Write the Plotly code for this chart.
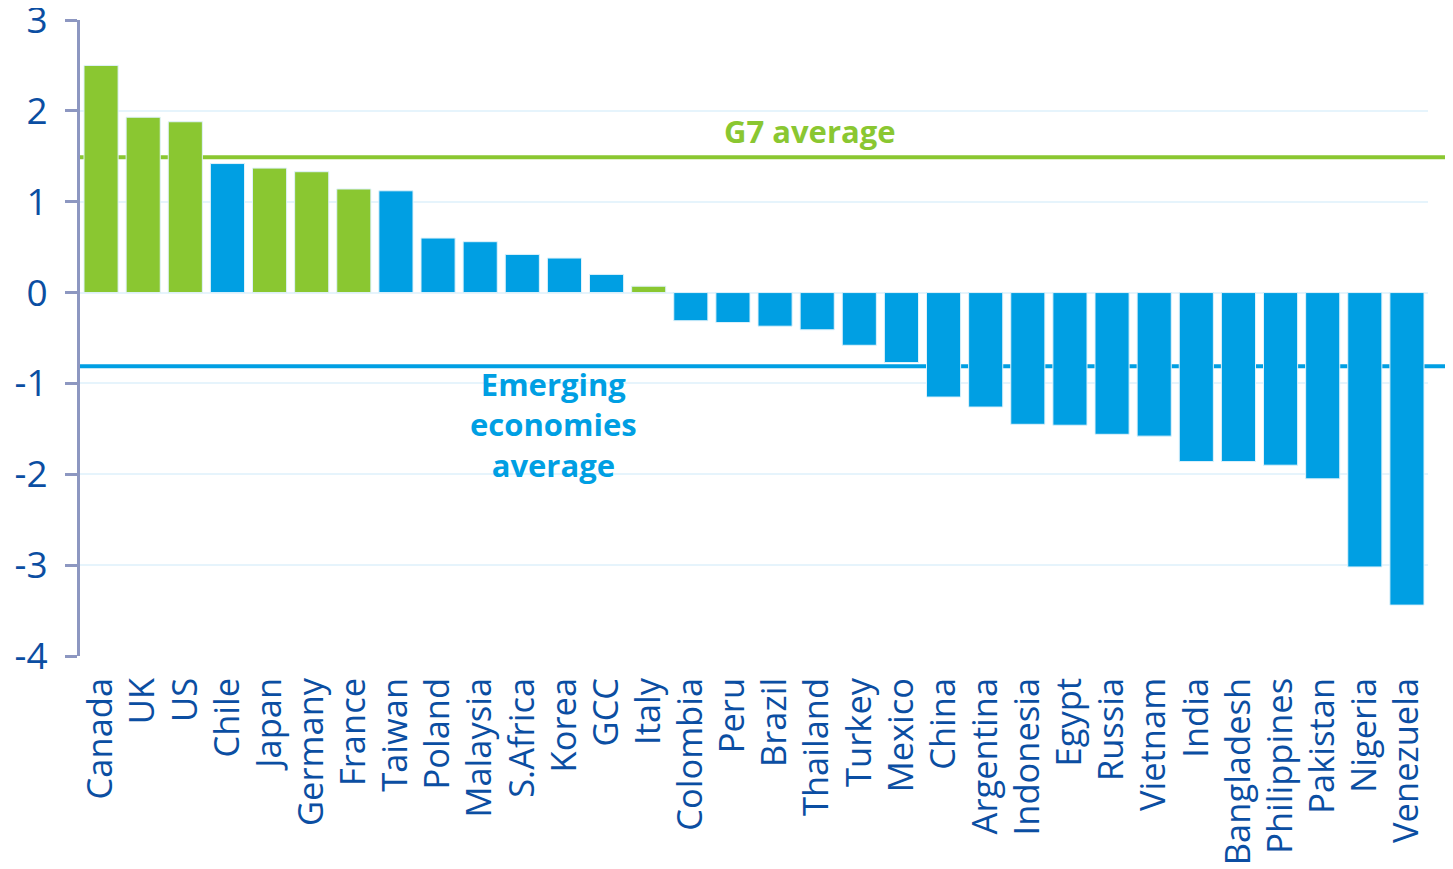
import plotly.graph_objects as go

countries = ["Canada", "UK", "US", "Chile", "Japan", "Germany", "France", "Taiwan",
             "Poland", "Malaysia", "S.Africa", "Korea", "GCC", "Italy", "Colombia",
             "Peru", "Brazil", "Thailand", "Turkey", "Mexico", "China", "Argentina",
             "Indonesia", "Egypt", "Russia", "Vietnam", "India", "Bangladesh",
             "Philippines", "Pakistan", "Nigeria", "Venezuela"]
values = [2.50, 1.93, 1.88, 1.42, 1.37, 1.33, 1.14, 1.12,
          0.60, 0.56, 0.42, 0.38, 0.20, 0.07, -0.31,
          -0.33, -0.37, -0.41, -0.58, -0.77, -1.15, -1.26,
          -1.45, -1.46, -1.56, -1.58, -1.86, -1.86,
          -1.90, -2.05, -3.02, -3.44]
g7 = ["Canada", "UK", "US", "Japan", "Germany", "France", "Italy"]
g7_average = 1.49
emerging_average = -0.81
y_ticks = [3, 2, 1, 0, -1, -2, -3, -4]
y_ticktext = ["3", "2", "1", "0", "-1", "-2", "-3", "-4"]

GREEN = "#8ac731"
BLUE = "#009fe3"
NAVY = "#0b4ea2"
AXIS = "#8d97c1"
GRID = "#e6f4fc"
FONT = "Open Sans"

Y_MIN, Y_MAX = -4, 3


def ypaper(v):
    return (v - Y_MIN) / (Y_MAX - Y_MIN)


colors = [GREEN if c in g7 else BLUE for c in countries]

# page body has an 8px margin, so the figure is a bit smaller than the window
fig = go.Figure(
    layout=go.Layout(
        width=1445, height=861,
        margin=dict(l=72, r=25, t=12, b=213),
        plot_bgcolor="white", paper_bgcolor="white",
        showlegend=False,
        bargap=0.19,
        font=dict(family=FONT, color=NAVY),
        xaxis=dict(
            type="category", range=[-0.5, len(countries) - 0.5],
            tickangle=-90, tickfont=dict(size=34.5, color=NAVY, family=FONT, weight=500),
            showline=False, ticks="", showgrid=False, zeroline=False,
            ticklabelstandoff=14, automargin=False,
        ),
        xaxis2=dict(
            overlaying="x", anchor="free", position=ypaper(0),
            range=[-0.5, len(countries) - 0.5],
            tickvals=[k + 0.5 for k in range(len(countries))],
            ticks="outside", ticklen=9, tickwidth=3, tickcolor=AXIS,
            showticklabels=False, showgrid=False, zeroline=False,
            showline=True, linecolor=AXIS, linewidth=3, automargin=False,
        ),
        yaxis=dict(
            range=[Y_MIN, Y_MAX], tickvals=y_ticks, ticktext=y_ticktext,
            tickfont=dict(size=37, color=NAVY, family=FONT, weight=500),
            ticks="outside", ticklen=12, tickwidth=3, tickcolor=AXIS,
            showline=True, linecolor=AXIS, linewidth=3,
            showgrid=True, gridcolor=GRID, gridwidth=2,
            zeroline=False, ticklabelstandoff=10, automargin=False,
            ticklabeloverflow="allow",
        ),
    )
)

fig.add_trace(go.Bar(
    x=countries, y=values,
    marker=dict(color=colors, line=dict(color="#dff2fb", width=1)),
    hoverinfo="x+y",
))

# average lines run past the end of the axis, to the page edge
for level, color in [(g7_average, GREEN), (emerging_average, BLUE)]:
    fig.add_shape(
        type="line", xref="paper", yref="paper",
        x0=0, x1=1.03, y0=ypaper(level), y1=ypaper(level),
        line=dict(color=color, width=4), layer="below",
    )

fig.add_annotation(
    text="<b>G7 average</b>", xref="paper", yref="paper",
    x=(810 - 80) / 1348, y=ypaper(1.78), yanchor="middle",
    showarrow=False, font=dict(size=31, color=GREEN, family=FONT, weight=800),
)
fig.add_annotation(
    text="<b>Emerging<br>economies<br>average</b>", xref="paper", yref="paper",
    x=(553 - 80) / 1348, y=ypaper(-1.45), yanchor="middle",
    showarrow=False, align="center",
    font=dict(size=31, color=BLUE, family=FONT, weight=800),
)

fig.write_html("out.html")
